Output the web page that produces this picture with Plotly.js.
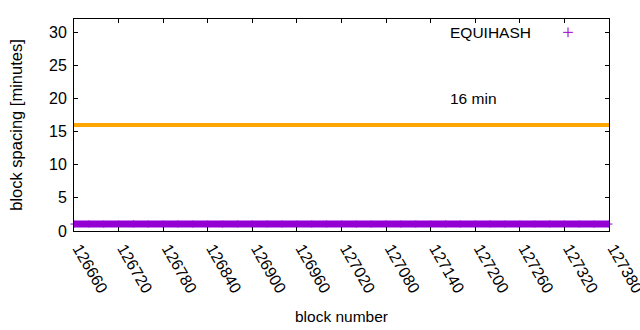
<!DOCTYPE html>
<html>
<head>
<meta charset="utf-8">
<script src="https://cdn.plot.ly/plotly-3.0.1.min.js"></script>
<style>html,body{margin:0;padding:0;background:#fff}#chart{width:640px;height:330px}</style>
</head>
<body>
<div id="chart"></div>
<script>
// Block numbers (sampled) and EQUIHASH block spacing in minutes
const blocks = [126660,126680,126700,126720,126740,126760,126780,126800,126820,126840,
  126860,126880,126900,126920,126940,126960,126980,127000,127020,127040,
  127060,127080,127100,127120,127140,127160,127180,127200,127220,127240,
  127260,127280,127300,127320,127340,127360,127380];
const spacing = [1.05,1.06,1.04,1.05,1.07,1.05,1.04,1.06,1.05,1.05,
  1.04,1.06,1.05,1.07,1.05,1.04,1.05,1.06,1.05,1.04,
  1.05,1.06,1.05,1.05,1.04,1.06,1.05,1.05,1.07,1.05,
  1.04,1.05,1.06,1.05,1.05,1.04,1.05];
// 16-minute reference line
const targetX = [126660, 127380];
const targetY = [16, 16];
const targetLabel = '16 min';
const targetLabelPos = [127163, 20];
const seriesName = 'EQUIHASH';
const xTicks = [126660,126720,126780,126840,126900,126960,127020,127080,127140,127200,127260,127320,127380];
const yTicks = [0,5,10,15,20,25,30];

const FONT = 'Liberation Sans, Arial, sans-serif';
const PURPLE = '#9400d3';
const ORANGE = '#ffa500';

const traces = [
  {x: targetX, y: targetY, mode: 'lines', line: {color: ORANGE, width: 4}, showlegend: false, hoverinfo: 'skip'},
  {x: blocks, y: spacing, mode: 'lines+markers', line: {color: PURPLE, width: 7},
   marker: {symbol: 'cross-thin', size: 5, line: {color: PURPLE, width: 1}}, showlegend: false, cliponaxis: false},
  {x: [null], y: [null], mode: 'markers', name: ' ',
   marker: {symbol: 'cross-thin', size: 7, color: PURPLE, line: {color: PURPLE, width: 1}}, showlegend: true}
];

const axisCommon = {
  showline: true, linecolor: '#000', linewidth: 1, mirror: 'ticks',
  ticks: 'inside', ticklen: 4, tickcolor: '#000', tickwidth: 1,
  showgrid: false, zeroline: false,
  tickfont: {family: FONT, size: 16, color: '#000'}
};

const layout = {
  width: 640, height: 330,
  margin: {l: 74, r: 31, t: 19, b: 99},
  paper_bgcolor: '#fff', plot_bgcolor: '#fff',
  font: {family: FONT, color: '#000'},
  xaxis: Object.assign({}, axisCommon, {
    range: [126660, 127380], tickmode: 'array', tickvals: xTicks, ticktext: xTicks.map(String),
    tickangle: 60, ticklabelstandoff: 1, ticklabelshift: 5, ticklabeloverflow: 'allow',
    title: {text: 'block number', font: {family: FONT, size: 15.5, color: '#000'}, standoff: 16}
  }),
  yaxis: Object.assign({}, axisCommon, {
    range: [0, 32], tickmode: 'array', tickvals: yTicks, ticktext: yTicks.map(String),
    ticklabelstandoff: 3,
    title: {text: 'block spacing [minutes]', font: {family: FONT, size: 16.5, color: '#000'}, standoff: 22}
  }),
  showlegend: true,
  legend: {x: 0.886, xanchor: 'left', y: 0.935, yanchor: 'middle', bgcolor: 'rgba(0,0,0,0)',
    font: {family: FONT, size: 15.5}, borderwidth: 0},
  annotations: [
    {x: targetLabelPos[0], y: targetLabelPos[1], xref: 'x', yref: 'y', text: targetLabel, showarrow: false,
     xanchor: 'left', yanchor: 'middle', font: {family: FONT, size: 15.5, color: '#000'}},
    {x: 0, y: 0, xref: 'paper', yref: 'paper', text: seriesName, showarrow: false,
     xanchor: 'right', yanchor: 'middle', font: {family: FONT, size: 15.5, color: '#000'}}
  ]
};
// key text position (pixel -> paper coords)
layout.annotations[1].x = (533 - 74) / (640 - 74 - 31);
layout.annotations[1].y = (330 - 99 - 32) / (330 - 19 - 99);

Plotly.newPlot('chart', traces, layout, {displayModeBar: false, staticPlot: true});
</script>
</body>
</html>
